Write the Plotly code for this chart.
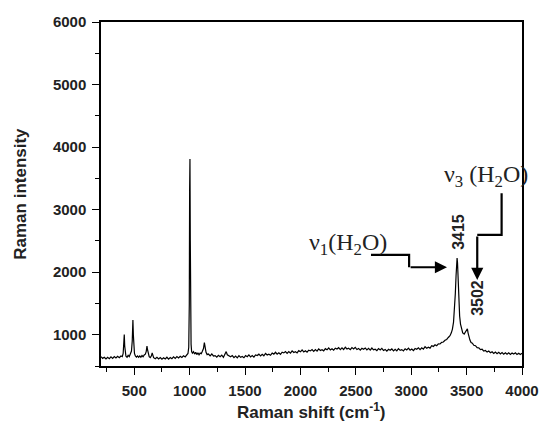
import plotly.graph_objects as go

# ---- data ----
raman_shift = [
    200, 215, 230, 245, 260, 275, 290, 305, 320, 335, 350, 365, 380, 392, 400, 405, 410, 414, 418, 425,
    435, 445, 455, 465, 475, 482, 488, 492, 496, 502, 510, 520, 530, 540, 550, 560, 570, 580, 590, 600,
    608, 615, 620, 626, 635, 645, 655, 662, 667, 675, 690, 705, 720, 735, 750, 765, 780, 795, 810, 825,
    840, 855, 870, 885, 900, 915, 930, 945, 960, 975, 985, 992, 997, 1000, 1003, 1006, 1009, 1013, 1018, 1025,
    1035, 1045, 1055, 1065, 1075, 1085, 1095, 1105, 1115, 1125, 1133, 1140, 1148, 1158, 1170, 1185, 1200, 1215, 1230, 1245,
    1260, 1275, 1290, 1305, 1320, 1330, 1340, 1355, 1370, 1385, 1400, 1415, 1430, 1445, 1460, 1475, 1490, 1505, 1520, 1535,
    1550, 1565, 1580, 1595, 1610, 1625, 1640, 1655, 1670, 1685, 1700, 1715, 1730, 1745, 1760, 1775, 1790, 1805, 1820, 1835,
    1850, 1865, 1880, 1895, 1910, 1925, 1940, 1955, 1970, 1985, 2000, 2015, 2030, 2045, 2060, 2075, 2090, 2105, 2120, 2135,
    2150, 2165, 2180, 2195, 2210, 2225, 2240, 2255, 2270, 2285, 2300, 2315, 2330, 2345, 2360, 2375, 2390, 2405, 2420, 2435,
    2450, 2465, 2480, 2495, 2510, 2525, 2540, 2555, 2570, 2585, 2600, 2615, 2630, 2645, 2660, 2675, 2690, 2705, 2720, 2735,
    2750, 2765, 2780, 2795, 2810, 2825, 2840, 2855, 2870, 2885, 2900, 2915, 2930, 2945, 2960, 2975, 2990, 3005, 3020, 3035,
    3050, 3065, 3080, 3095, 3110, 3125, 3140, 3155, 3170, 3185, 3200, 3215, 3230, 3245, 3260, 3275, 3290, 3305, 3320, 3335,
    3350, 3362, 3372, 3382, 3390, 3398, 3405, 3410, 3414, 3418, 3424, 3430, 3437, 3445, 3455, 3465, 3478, 3490, 3500, 3507,
    3513, 3520, 3530, 3540, 3552, 3565, 3580, 3595, 3610, 3625, 3640, 3655, 3670, 3685, 3700, 3715, 3730, 3745, 3760, 3775,
    3790, 3805, 3820, 3835, 3850, 3865, 3880, 3895, 3910, 3925, 3940, 3955, 3970, 3985, 4000,
]
intensity = [
    648, 622, 640, 612, 638, 618, 646, 622, 652, 628, 655, 632, 660, 650, 700, 800, 1005, 820, 700, 655,
    640, 670, 650, 685, 740, 900, 1235, 1000, 800, 700, 660, 642, 660, 638, 662, 640, 668, 648, 676, 690,
    730, 820, 760, 690, 650, 635, 662, 710, 660, 632, 615, 640, 612, 636, 608, 632, 612, 640, 610, 636,
    616, 646, 622, 650, 628, 656, 636, 664, 644, 676, 700, 800, 1500, 3300, 3810, 2500, 1200, 850, 730, 705,
    728, 690, 720, 682, 712, 680, 706, 698, 735, 780, 875, 800, 720, 682, 692, 661, 692, 660, 667, 642,
    672, 650, 675, 640, 690, 730, 680, 660, 647, 666, 634, 659, 631, 665, 638, 651, 632, 667, 649, 678,
    646, 666, 642, 676, 667, 689, 660, 688, 663, 700, 675, 689, 671, 707, 690, 720, 689, 710, 687, 720,
    709, 731, 702, 730, 705, 742, 716, 729, 710, 745, 727, 756, 724, 744, 720, 752, 741, 763, 734, 762,
    737, 774, 748, 761, 742, 777, 759, 788, 756, 776, 752, 784, 772, 793, 763, 790, 764, 800, 772, 783,
    762, 794, 773, 799, 764, 781, 754, 783, 769, 788, 756, 781, 753, 787, 758, 768, 746, 778, 757, 783,
    748, 765, 738, 767, 753, 773, 742, 768, 741, 777, 750, 762, 742, 776, 757, 785, 752, 771, 747, 779,
    768, 791, 763, 792, 769, 808, 785, 801, 786, 825, 813, 840, 825, 854, 852, 878, 884, 911, 925, 956,
    985, 1030, 1090, 1200, 1380, 1650, 1950, 2150, 2225, 2150, 1850, 1550, 1300, 1170, 1080, 1030, 1010, 1040, 1085, 1095,
    1030, 960, 915, 875, 865, 832, 825, 792, 790, 762, 768, 738, 748, 722, 738, 712, 728, 700, 724, 698,
    718, 692, 715, 690, 712, 688, 710, 685, 708, 690, 712, 686, 705, 684, 702,
]

x_ticks = [500, 1000, 1500, 2000, 2500, 3000, 3500, 4000]
y_ticks = [1000, 2000, 3000, 4000, 5000, 6000]

# arrow guide paths in data units
nu1_path_x = [2637, 2981, 2981, 3323]
nu1_path_y = [2276, 2276, 2079, 2079]
nu3_path_x = [3816, 3816, 3596, 3596]
nu3_path_y = [3263, 2596, 2596, 1876]

fig = go.Figure()
fig.add_trace(go.Scatter(x=raman_shift, y=intensity, mode="lines",
                         line=dict(color="black", width=1.2), showlegend=False, hoverinfo="skip"))

for px, py in [(nu1_path_x, nu1_path_y), (nu3_path_x, nu3_path_y)]:
    fig.add_trace(go.Scatter(x=px[:-1], y=py[:-1], mode="lines",
                             line=dict(color="black", width=2.2), showlegend=False, hoverinfo="skip"))
    fig.add_annotation(x=px[-1], y=py[-1], ax=px[-2], ay=py[-2], axref="x", ayref="y",
                       xref="x", yref="y", text="", showarrow=True, arrowhead=2,
                       arrowsize=1.1, arrowwidth=2.2, arrowcolor="black", standoff=0)

serif = "Times New Roman, Liberation Serif, serif"
sans = "Arial, Liberation Sans, sans-serif"

fig.add_annotation(x=3679, y=3540, xref="x", yref="y", yanchor="middle", xanchor="center",
                   text="ν<sub>3</sub> (H<sub>2</sub>O)", showarrow=False,
                   font=dict(family=serif, size=24, color="#222"))
fig.add_annotation(x=2428, y=2452, xref="x", yref="y", yanchor="middle", xanchor="center",
                   text="ν<sub>1</sub>(H<sub>2</sub>O)", showarrow=False,
                   font=dict(family=serif, size=24, color="#222"))
fig.add_annotation(x=3431, y=2644, xref="x", yref="y", text="<b>3415</b>", showarrow=False,
                   textangle=-90, font=dict(family=sans, size=16, color="#222"))
fig.add_annotation(x=3602, y=1588, xref="x", yref="y", text="<b>3502</b>", showarrow=False,
                   textangle=-90, font=dict(family=sans, size=16, color="#222"))

# axis titles
fig.add_annotation(x=-0.193, y=0.5, xref="paper", yref="paper", text="<b>Raman intensity</b>",
                   textangle=-90, showarrow=False, xanchor="center", yanchor="middle",
                   font=dict(family=sans, size=17, color="#222"))
fig.add_annotation(x=0.5, y=-0.131, xref="paper", yref="paper",
                   text="<b>Raman shift (cm<sup>-1</sup>)</b>", showarrow=False,
                   xanchor="center", yanchor="middle",
                   font=dict(family=sans, size=17, color="#222"))

axis_common = dict(showgrid=False, zeroline=False, showline=True, linecolor="black", linewidth=1.5,
                   mirror=True, ticks="outside", ticklen=7, tickwidth=1.2, tickcolor="black",
                   automargin=False, ticklabelstandoff=3,
                   tickfont=dict(family=sans, size=15, color="#222", weight="bold"))

fig.update_xaxes(range=[200, 4000], tickvals=x_ticks, ticktext=[str(v) for v in x_ticks],
                 minor=dict(dtick=250, tick0=0, ticklen=4, ticks="outside", tickcolor="black"),
                 **axis_common)
fig.update_yaxes(range=[500, 6000], tickvals=y_ticks, ticktext=[str(v) for v in y_ticks],
                 minor=dict(dtick=500, tick0=0, ticklen=4, ticks="outside", tickcolor="black"),
                 **axis_common)

fig.update_layout(width=539, height=425, margin=dict(l=101, r=17, t=22, b=59),
                  paper_bgcolor="white", plot_bgcolor="white", showlegend=False)

fig.write_html("out.html")
